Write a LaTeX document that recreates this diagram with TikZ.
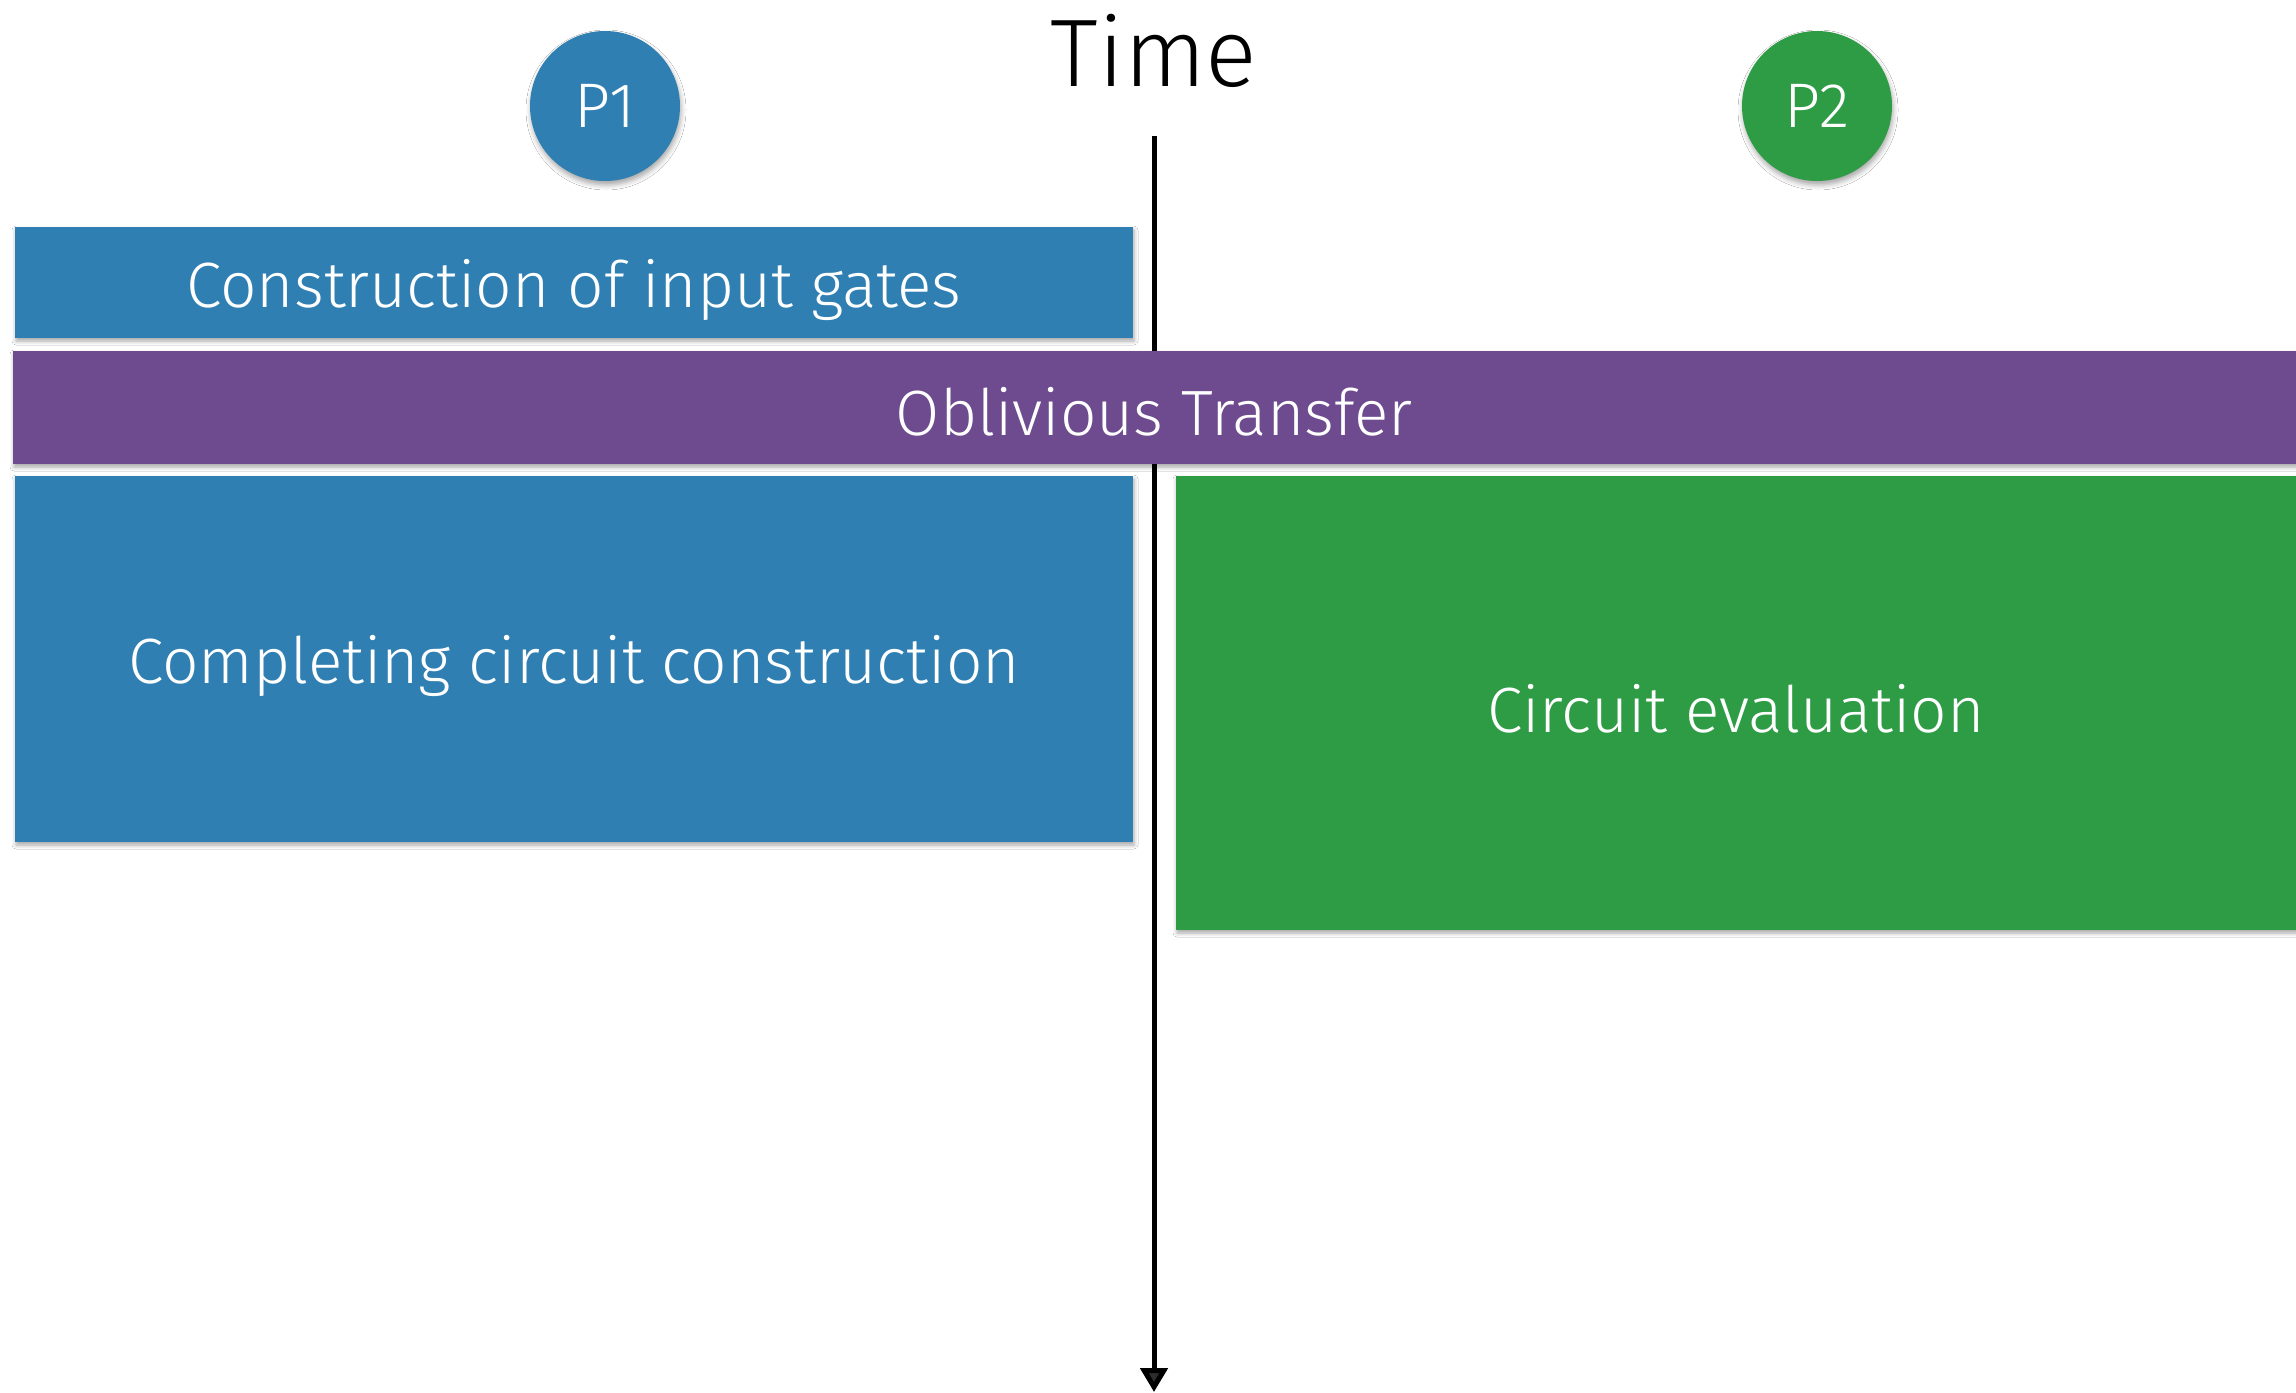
\documentclass[tikz,border=0pt]{standalone}
\usepackage{fontspec}
\setmainfont{Fira Sans Light}
\usetikzlibrary{arrows.meta,shadows.blur}
\definecolor{pblue}{RGB}{47,127,178}
\definecolor{pgreen}{RGB}{46,155,69}
\definecolor{ppurple}{RGB}{110,74,143}
\tikzset{
  box/.style={draw=none, inner sep=0pt, blur shadow={shadow xshift=1pt, shadow yshift=-3pt, shadow blur radius=4pt, shadow opacity=35}},
  lbl/.style={text=white, font=\fontsize{64}{76}\selectfont},
  party/.style={circle, minimum size=150pt, inner sep=0pt, text=white, font=\fontsize{63}{76}\selectfont, blur shadow={shadow xshift=1pt, shadow yshift=-4pt, shadow blur radius=5pt, shadow opacity=35}},
}
\begin{document}
\begin{tikzpicture}[x=1pt,y=-1pt]
\useasboundingbox (0,0) rectangle (2296,1392);
\fill[white] (0,0) rectangle (2296,1392);
% boxes
\fill[pblue, box] (15,227) rectangle (1133,338);
\fill[pblue, box] (15,476) rectangle (1133,842);
\fill[pgreen, box] (1176,476) rectangle (2300,930);
% time axis
\coordinate (tstart) at (1154,136);
\coordinate (tend) at (1154,1392);
\draw[line width=5pt, -{Triangle[length=24pt,width=27pt]}] (tstart) -- (tend);
\fill[ppurple, box] (13,351) rectangle (2300,464);
% labels
\node[lbl] (cig) at (574,290) {Construction of input gates};
\node[lbl] (ot) at (1154,412) {Oblivious Transfer};
\node[lbl] (ccc) at (574,666) {Completing circuit construction};
\node[lbl] (ce) at (1736,709) {Circuit evaluation};
\node[party, fill=pblue] (p1) at (605,106) {P1};
\node[party, fill=pgreen] (p2) at (1817,106) {P2};
\node[font=\fontsize{96}{110}\selectfont, anchor=base] (time) at (1154,86) {Time};
\end{tikzpicture}
\end{document}
